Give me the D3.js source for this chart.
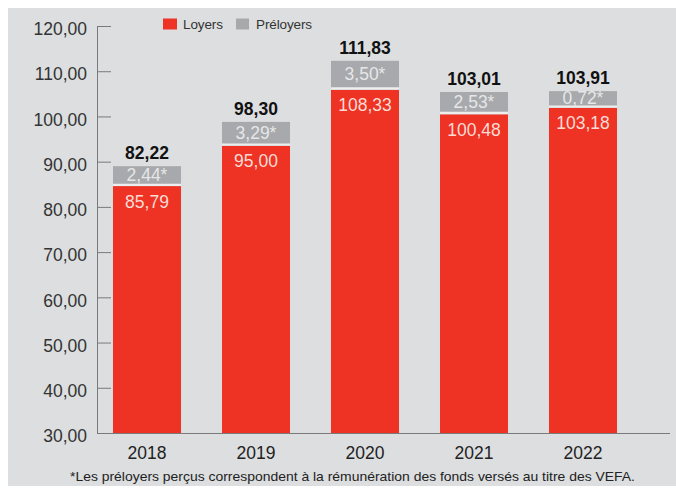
<!DOCTYPE html>
<html>
<head>
<meta charset="utf-8">
<script src="https://cdn.jsdelivr.net/npm/d3@7"></script>
<style>
  body { margin: 0; background: #ffffff; }
  text { font-family: "Liberation Sans", Arial, Helvetica, sans-serif; }
</style>
</head>
<body>
<div id="chart"></div>
<script>
// values (bar heights) and the printed labels
var years = ["2018", "2019", "2020", "2021", "2022"];
var loyers = [84.6, 93.5, 105.9, 100.5, 101.9];
var preloyers = [4.4, 5.3, 6.4, 4.9, 3.7];
var loyersLabels = ["85,79", "95,00", "108,33", "100,48", "103,18"];
var preloyersLabels = ["2,44*", "3,29*", "3,50*", "2,53*", "0,72*"];
var totalLabels = ["82,22", "98,30", "111,83", "103,01", "103,91"];
var yTicks = [30, 40, 50, 60, 70, 80, 90, 100, 110, 120];
var note = "*Les préloyers perçus correspondent à la rémunération des fonds versés au titre des VEFA.";

var svgWidth = 676;
var svgHeight = 494;

var svg = d3.select("#chart")
  .append("svg")
  .attr("width", svgWidth)
  .attr("height", svgHeight);

// grey panel
svg.append("rect")
  .attr("x", 8)
  .attr("y", 8)
  .attr("width", 668)
  .attr("height", 478)
  .attr("fill", "#dcdee0");

var fr = d3.formatLocale({ decimal: ",", thousands: " ", grouping: [3], currency: ["", " €"] });
var fmt = fr.format(".2f");

var x = d3.scaleBand()
  .domain(years)
  .range([92.5, 637.5])
  .paddingInner(0.376)
  .paddingOuter(0.188);

var y = d3.scaleLinear()
  .domain([30, 120])
  .range([433, 26]);

// y axis, ticks pointing into the plot
var yAxis = svg.append("g")
  .attr("transform", "translate(97,0)")
  .call(d3.axisLeft(y).tickValues(yTicks).tickFormat(fmt).tickSize(-14).tickSizeOuter(0).tickPadding(10));

yAxis.select(".domain").attr("stroke", "#7a7a7a");
yAxis.selectAll(".tick line").attr("stroke", "#7a7a7a");
yAxis.selectAll(".tick text")
  .attr("font-size", "17.5px")
  .attr("font-family", "'Liberation Sans', Arial, sans-serif")
  .attr("fill", "#333333")
  .attr("dy", "0.5em");

// x axis
var xAxis = svg.append("g")
  .attr("transform", "translate(0,433)")
  .call(d3.axisBottom(x).tickSize(0).tickPadding(14));

xAxis.select(".domain").remove();
xAxis.selectAll(".tick text")
  .attr("font-size", "17.5px")
  .attr("font-family", "'Liberation Sans', Arial, sans-serif")
  .attr("fill", "#222222");

svg.append("line")
  .attr("x1", 97)
  .attr("x2", 670)
  .attr("y1", 433.5)
  .attr("y2", 433.5)
  .attr("stroke", "#7a7a7a");

var bars = svg.append("g");

// Loyers
bars.selectAll(".loyers")
  .data(years)
  .enter()
  .append("rect")
  .attr("class", "loyers")
  .attr("x", d => x(d))
  .attr("width", x.bandwidth())
  .attr("y", (d, i) => y(loyers[i]))
  .attr("height", (d, i) => y(30) - y(loyers[i]))
  .attr("fill", "#ee3224");

// Préloyers
bars.selectAll(".preloyers")
  .data(years)
  .enter()
  .append("rect")
  .attr("class", "preloyers")
  .attr("x", d => x(d))
  .attr("width", x.bandwidth())
  .attr("y", (d, i) => y(loyers[i] + preloyers[i]))
  .attr("height", (d, i) => y(loyers[i]) - y(loyers[i] + preloyers[i]))
  .attr("fill", "#a7a9ac");

// thin light gap between segments
bars.selectAll(".gap")
  .data(years)
  .enter()
  .append("line")
  .attr("x1", d => x(d))
  .attr("x2", d => x(d) + x.bandwidth())
  .attr("y1", (d, i) => y(loyers[i]) - 1.2)
  .attr("y2", (d, i) => y(loyers[i]) - 1.2)
  .attr("stroke", "#eeeeee")
  .attr("stroke-width", 2.4);

// labels
var labels = svg.append("g").attr("text-anchor", "middle").attr("font-size", "17.5px");

labels.selectAll(".lLab")
  .data(years)
  .enter()
  .append("text")
  .attr("x", d => x(d) + x.bandwidth() / 2)
  .attr("y", (d, i) => y(loyers[i]) + 21.5)
  .attr("fill", "#fcdcd4")
  .text((d, i) => loyersLabels[i]);

labels.selectAll(".pLab")
  .data(years)
  .enter()
  .append("text")
  .attr("x", d => x(d) + x.bandwidth() / 2)
  .attr("y", (d, i) => (y(loyers[i]) + y(loyers[i] + preloyers[i])) / 2 + 5)
  .attr("fill", "#e6e7e8")
  .text((d, i) => preloyersLabels[i]);

labels.selectAll(".tLab")
  .data(years)
  .enter()
  .append("text")
  .attr("x", d => x(d) + x.bandwidth() / 2)
  .attr("y", (d, i) => y(loyers[i] + preloyers[i]) - 7)
  .attr("fill", "#111111")
  .attr("font-weight", "bold")
  .text((d, i) => totalLabels[i]);

// legend
var legend = svg.append("g").attr("font-size", "13.5px").attr("fill", "#333333");
legend.append("rect").attr("x", 163).attr("y", 18.5).attr("width", 14).attr("height", 11).attr("fill", "#ee3224");
legend.append("text").attr("x", 183).attr("y", 28.5).attr("textLength", 40).text("Loyers");
legend.append("rect").attr("x", 236).attr("y", 18.5).attr("width", 13).attr("height", 11).attr("fill", "#a7a9ac");
legend.append("text").attr("x", 256).attr("y", 28.5).attr("textLength", 56).text("Préloyers");

// footnote
svg.append("text")
  .attr("x", 70)
  .attr("y", 481)
  .attr("font-size", "13px")
  .attr("fill", "#222222")
  .attr("textLength", 565)
  .attr("lengthAdjust", "spacingAndGlyphs")
  .text(note);
</script>
</body>
</html>
